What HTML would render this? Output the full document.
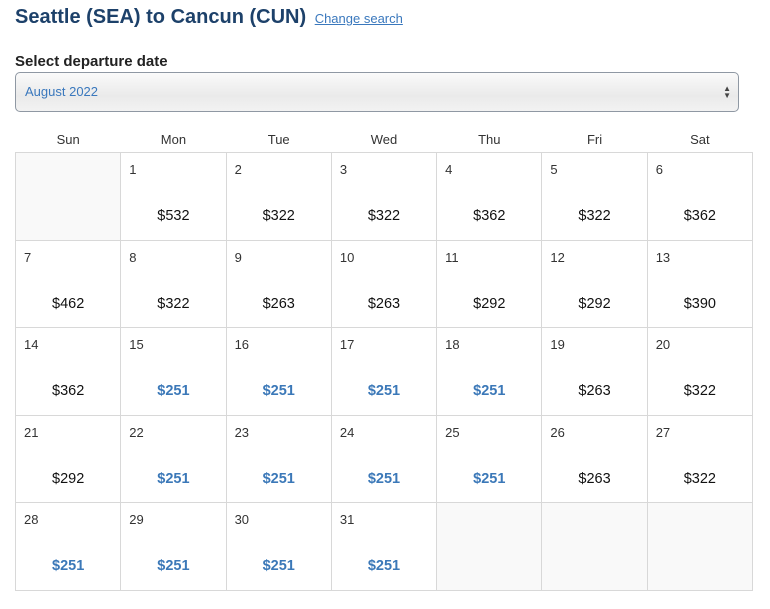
<!DOCTYPE html>
<html><head><style>
body{margin:0;width:770px;height:609px;background:#fff;font-family:"Liberation Sans",sans-serif;position:relative;overflow:hidden}
.t{position:absolute;left:15px;top:6px;font-size:20px;font-weight:bold;color:#1d416a;white-space:nowrap}
.t a{font-size:13px;font-weight:normal;color:#3a78bd;text-decoration:underline;margin-left:3px}
.l{position:absolute;left:15px;top:53px;font-size:15px;font-weight:bold;color:#222}
.s{position:absolute;left:15px;top:72px;width:722px;height:38px;border:1px solid #8f98a3;border-radius:5px;background:linear-gradient(#fafafa,#eaeaea 60%,#f2f2f2);box-sizing:content-box}
.s span{position:absolute;left:9px;top:11px;font-size:13px;color:#3a78bd}
.s i{position:absolute;right:7px;top:12px;font-style:normal;font-size:8px;line-height:7px;color:#444}
table{position:absolute;left:15px;top:130px;border-collapse:collapse;table-layout:fixed;width:738px}
th{font-weight:normal;font-size:13px;color:#333;height:20px;padding:0;vertical-align:top;padding-top:2px}
td{border:1px solid #d8d8d8;height:86.6px;padding:0;position:relative;vertical-align:top}
td.e{background:#f9f9f9}
td b{position:absolute;left:8px;top:9px;font-weight:normal;font-size:13px;color:#333}
td em{position:absolute;left:0;right:0;text-align:center;top:55px;font-style:normal;font-size:14.5px;color:#111}
td em.c{color:#3b78b8;font-weight:bold}
</style></head><body>
<div class="t">Seattle (SEA) to Cancun (CUN) <a>Change search</a></div>
<div class="l">Select departure date</div>
<div class="s"><span>August 2022</span><i>▲<br>▼</i></div>
<table>
<tr><th>Sun</th><th>Mon</th><th>Tue</th><th>Wed</th><th>Thu</th><th>Fri</th><th>Sat</th></tr>
<tr><td class="e"></td><td><b>1</b><em>$532</em></td><td><b>2</b><em>$322</em></td><td><b>3</b><em>$322</em></td><td><b>4</b><em>$362</em></td><td><b>5</b><em>$322</em></td><td><b>6</b><em>$362</em></td></tr>
<tr><td><b>7</b><em>$462</em></td><td><b>8</b><em>$322</em></td><td><b>9</b><em>$263</em></td><td><b>10</b><em>$263</em></td><td><b>11</b><em>$292</em></td><td><b>12</b><em>$292</em></td><td><b>13</b><em>$390</em></td></tr>
<tr><td><b>14</b><em>$362</em></td><td><b>15</b><em class="c">$251</em></td><td><b>16</b><em class="c">$251</em></td><td><b>17</b><em class="c">$251</em></td><td><b>18</b><em class="c">$251</em></td><td><b>19</b><em>$263</em></td><td><b>20</b><em>$322</em></td></tr>
<tr><td><b>21</b><em>$292</em></td><td><b>22</b><em class="c">$251</em></td><td><b>23</b><em class="c">$251</em></td><td><b>24</b><em class="c">$251</em></td><td><b>25</b><em class="c">$251</em></td><td><b>26</b><em>$263</em></td><td><b>27</b><em>$322</em></td></tr>
<tr><td><b>28</b><em class="c">$251</em></td><td><b>29</b><em class="c">$251</em></td><td><b>30</b><em class="c">$251</em></td><td><b>31</b><em class="c">$251</em></td><td class="e"></td><td class="e"></td><td class="e"></td></tr>
</table>
</body></html>
